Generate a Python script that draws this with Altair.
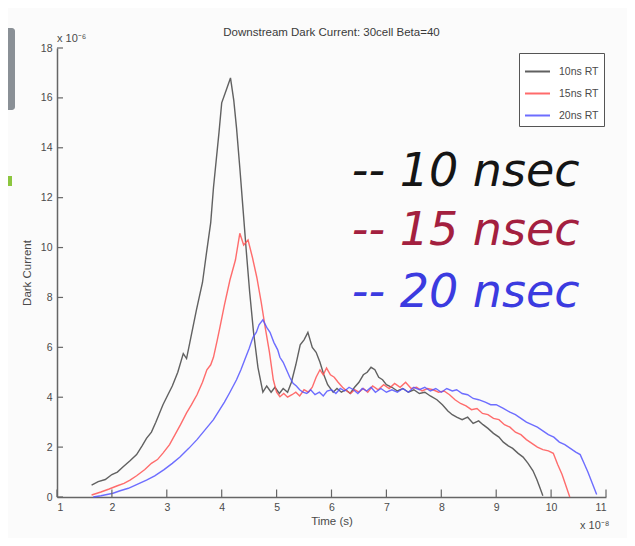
import altair as alt
import pandas as pd

# Time axis in units of 1e-8 s, current in units of 1e-6 (axis exponents)
t10 = [1.63, 1.75, 1.88, 2.0, 2.1, 2.2, 2.33, 2.45, 2.55, 2.63,
       2.72, 2.8, 2.93, 3.02, 3.1, 3.2, 3.3, 3.36, 3.42, 3.54,
       3.65, 3.73, 3.8, 3.85, 3.95, 4.0, 4.08, 4.16, 4.22, 4.27,
       4.33, 4.39, 4.45, 4.51, 4.58, 4.66, 4.75, 4.82, 4.9, 4.97,
       5.05, 5.12, 5.2, 5.27, 5.35, 5.43, 5.5, 5.57, 5.65, 5.72,
       5.79, 5.86, 5.93, 6.03, 6.1, 6.18, 6.26, 6.34, 6.42, 6.5,
       6.58, 6.65, 6.72, 6.79, 6.86, 6.93, 7.0, 7.1, 7.2, 7.3,
       7.4, 7.5, 7.6, 7.7, 7.8, 7.92, 8.02, 8.12, 8.2, 8.28,
       8.38, 8.48, 8.58, 8.68, 8.76, 8.85, 8.95, 9.05, 9.13, 9.22,
       9.3, 9.4, 9.49, 9.58, 9.67, 9.74, 9.8, 9.85]
v10 = [0.48, 0.62, 0.7, 0.9, 1.0, 1.2, 1.45, 1.7, 2.05, 2.35,
       2.6, 3.0, 3.7, 4.1, 4.45, 5.0, 5.75, 5.55, 6.2, 7.5,
       8.6, 9.9, 11.0, 12.4, 14.6, 15.8, 16.3, 16.8, 15.9, 14.8,
       13.2, 11.5, 9.8, 8.2, 6.6, 5.2, 4.2, 4.45, 4.2, 4.4,
       4.15, 4.35, 4.2, 4.6, 5.3, 6.1, 6.3, 6.6, 6.0, 5.8,
       5.4, 4.9, 4.5, 4.2, 4.35, 4.2, 4.3, 4.15, 4.4, 4.6,
       4.9, 5.0, 5.2, 5.1, 4.8, 4.7, 4.5, 4.4, 4.25, 4.35,
       4.2, 4.3, 4.15, 4.2, 4.05, 3.9, 3.7, 3.45, 3.3, 3.2,
       3.1, 3.2, 2.95, 3.05, 2.9, 2.75, 2.55, 2.4, 2.2, 2.05,
       1.95, 1.75, 1.6, 1.35, 1.05, 0.7, 0.35, 0.05]

t15 = [1.63, 1.8, 1.95, 2.1, 2.22, 2.33, 2.45, 2.6, 2.72, 2.83,
       2.93, 3.05, 3.15, 3.25, 3.36, 3.45, 3.55, 3.65, 3.73, 3.8,
       3.85, 3.92, 3.97, 4.05, 4.15, 4.25, 4.33, 4.4, 4.48, 4.56,
       4.64, 4.72, 4.79, 4.87, 4.94, 5.0, 5.06, 5.13, 5.2, 5.28,
       5.35, 5.42, 5.5, 5.58, 5.65, 5.72, 5.79, 5.85, 5.91, 5.98,
       6.05, 6.12, 6.2, 6.28, 6.35, 6.42, 6.5, 6.58, 6.66, 6.75,
       6.85, 6.95, 7.05, 7.15, 7.25, 7.35, 7.45, 7.55, 7.65, 7.75,
       7.85, 7.95, 8.05, 8.15, 8.25, 8.35, 8.45, 8.55, 8.65, 8.75,
       8.85, 8.95, 9.05, 9.15, 9.25, 9.35, 9.45, 9.55, 9.65, 9.75,
       9.85, 9.95, 10.04, 10.12, 10.2, 10.27, 10.34]
v15 = [0.08, 0.2, 0.32, 0.45, 0.55, 0.68, 0.85, 1.1, 1.35, 1.5,
       1.76, 2.1, 2.5, 2.9, 3.37, 3.7, 4.1, 4.6, 5.1, 5.3,
       5.6, 6.3, 6.83, 7.7, 8.7, 9.5, 10.57, 10.1, 10.3, 9.6,
       8.8, 7.8, 6.83, 5.8, 4.7, 4.2, 4.02, 4.15, 4.0, 4.1,
       4.2, 4.05, 4.3, 4.2, 4.4, 4.8, 5.1, 4.9, 5.17, 4.9,
       4.8, 4.6, 4.4, 4.25, 4.15, 4.3, 4.2, 4.35, 4.2, 4.45,
       4.3, 4.5, 4.35, 4.55, 4.4, 4.6, 4.35, 4.4, 4.25, 4.35,
       4.3, 4.2, 4.25, 4.1, 3.9, 3.75, 3.65, 3.5, 3.55, 3.35,
       3.3, 3.15, 3.1, 2.9, 2.8, 2.6, 2.5, 2.3, 2.15, 2.0,
       1.9, 1.85, 1.75, 1.3, 0.9, 0.45, 0.0]

t20 = [1.66, 1.8, 2.02, 2.15, 2.3, 2.45, 2.63, 2.78, 2.95, 3.1,
       3.24, 3.4, 3.55, 3.7, 3.85, 3.95, 4.05, 4.15, 4.27, 4.35,
       4.42, 4.5, 4.57, 4.63, 4.68, 4.75, 4.82, 4.88, 4.95, 5.02,
       5.06, 5.12, 5.18, 5.24, 5.3, 5.36, 5.42, 5.48, 5.55, 5.62,
       5.7, 5.78, 5.85, 5.92, 6.0, 6.08, 6.16, 6.24, 6.32, 6.4,
       6.48, 6.56, 6.64, 6.72, 6.8, 6.9, 7.0, 7.1, 7.2, 7.3,
       7.4, 7.5, 7.6, 7.7, 7.8, 7.9, 8.0, 8.1, 8.2, 8.28,
       8.38, 8.48, 8.58, 8.68, 8.8, 8.9, 9.0, 9.13, 9.25, 9.35,
       9.45, 9.55, 9.65, 9.75, 9.85, 9.95, 10.05, 10.15, 10.25, 10.35,
       10.45, 10.53, 10.6, 10.67, 10.75, 10.83]
v20 = [0.0, 0.05, 0.15, 0.25, 0.35, 0.5, 0.68, 0.85, 1.1, 1.35,
       1.6, 1.95, 2.3, 2.7, 3.1, 3.45, 3.8, 4.2, 4.7, 5.1,
       5.5, 5.95, 6.4, 6.6, 6.9, 7.1, 6.8, 6.6, 6.2, 5.9,
       5.6, 5.4, 5.1, 4.8, 4.56, 4.45, 4.3, 4.2, 4.15, 4.3,
       4.1, 4.2, 4.05, 4.25, 4.3, 4.15, 4.35, 4.25, 4.4, 4.3,
       4.15, 4.35, 4.25, 4.4, 4.2, 4.35, 4.2, 4.3, 4.2, 4.35,
       4.2, 4.4, 4.3, 4.4, 4.25, 4.35, 4.2, 4.35, 4.25, 4.3,
       4.15, 4.1, 3.95, 3.9, 3.8, 3.7, 3.7, 3.55, 3.4, 3.3,
       3.15, 3.0, 2.9, 2.8, 2.65, 2.5, 2.4, 2.2, 2.1, 1.95,
       1.8, 1.7, 1.35, 1.0, 0.55, 0.1]

series_names = ["10ns RT", "15ns RT", "20ns RT"]
line_colors = ["#454545", "#ff5252", "#5454ff"]

x_ticks = [1, 2, 3, 4, 5, 6, 7, 8, 9, 10, 11]
y_ticks = [0, 2, 4, 6, 8, 10, 12, 14, 16, 18]

ann_labels = ["-- 10 nsec", "-- 15 nsec", "-- 20 nsec"]
ann_colors = ["#151515", "#a3203f", "#3b3be0"]
ann_t = [6.37, 6.37, 6.37]
ann_v = [13.03, 10.67, 8.18]

title_text = "Downstream Dark Current: 30cell Beta=40"

rows = []
for name, ts, vs in zip(series_names, [t10, t15, t20], [v10, v15, v20]):
    for i, (a, b) in enumerate(zip(ts, vs)):
        rows.append({"series": name, "t": a, "v": b, "order": i})
df = pd.DataFrame(rows)

ann_df = pd.DataFrame({"label": ann_labels, "color": ann_colors, "t": ann_t, "v": ann_v})
xt_df = pd.DataFrame({"t": x_ticks, "v0": [0] * len(x_ticks), "v1": [0.3] * len(x_ticks)})
yt_df = pd.DataFrame({"v": y_ticks, "t0": [1] * len(y_ticks), "t1": [1.11] * len(y_ticks)})
one = pd.DataFrame({"k": [0]})

xs = alt.Scale(domain=[1, 11], nice=False, zero=False)
ys = alt.Scale(domain=[0, 18], nice=False)

FONT = "Liberation Sans"
TXT = "#4a4a4a"

lines = alt.Chart(df).mark_line(strokeWidth=1.4, opacity=0.85).encode(
    x=alt.X("t:Q", scale=xs, axis=alt.Axis(values=x_ticks, tickSize=0, title="Time (s)",
                                           labelPadding=5, titlePadding=3, grid=False)),
    y=alt.Y("v:Q", scale=ys, axis=alt.Axis(values=y_ticks, tickSize=0, title="Dark Current",
                                           labelPadding=5, titlePadding=8, grid=False)),
    color=alt.Color("series:N", scale=alt.Scale(domain=series_names, range=line_colors),
                    legend=alt.Legend(title=None, orient="none", legendX=462, legendY=5,
                                      strokeColor="#555", fillColor="white", padding=5,
                                      labelFontSize=10.5, labelColor=TXT, symbolType="stroke",
                                      symbolStrokeWidth=2, symbolSize=625, rowPadding=3,
                                      labelFont=FONT, labelOffset=8)),
    order="order:Q",
)

xticks = alt.Chart(xt_df).mark_rule(color="#666", strokeWidth=1.2).encode(
    x=alt.X("t:Q", scale=xs), y=alt.Y("v0:Q", scale=ys), y2="v1:Q")
yticks = alt.Chart(yt_df).mark_rule(color="#666", strokeWidth=1.2).encode(
    y=alt.Y("v:Q", scale=ys), x=alt.X("t0:Q", scale=xs), x2="t1:Q")

ann = alt.Chart(ann_df).mark_text(fontSize=46, fontStyle="italic", font="DejaVu Sans", align="left",
                                  baseline="middle").encode(
    x=alt.X("t:Q", scale=xs), y=alt.Y("v:Q", scale=ys),
    text="label:N", color=alt.Color("color:N", scale=None))

title = alt.Chart(one).mark_text(fontSize=11.5, font=FONT, color="#3a3a3a", align="center",
                                 baseline="middle").encode(
    x=alt.value(274.5), y=alt.value(-15), text=alt.value(title_text))

yexp = alt.Chart(one).mark_text(fontSize=11, font=FONT, color=TXT, align="left",
                                baseline="middle").encode(
    x=alt.value(0), y=alt.value(-9), text=alt.value("x 10\u207b\u2076"))
xexp = alt.Chart(one).mark_text(fontSize=11, font=FONT, color=TXT, align="left",
                                baseline="middle").encode(
    x=alt.value(523), y=alt.value(478), text=alt.value("x 10\u207b\u2078"))

side_grey = alt.Chart(one).mark_rect(color="#8a9096", cornerRadius=3).encode(
    x=alt.value(-60), x2=alt.value(-42), y=alt.value(-20), y2=alt.value(62))
side_green = alt.Chart(one).mark_rect(color="#8cc63f").encode(
    x=alt.value(-60), x2=alt.value(-45), y=alt.value(128), y2=alt.value(138))

chart = alt.layer(side_grey, side_green, lines, xticks, yticks, ann, title, yexp, xexp).properties(
    width=549, height=449,
    autosize=alt.AutoSizeParams(type="none"),
    padding={"left": 49, "top": 40, "right": 21, "bottom": 41},
    background="#fbfbfb",
).configure_view(stroke=None).configure_axis(
    domainColor="#666", domainWidth=1.5, labelFontSize=10.5, labelColor=TXT, labelFont=FONT,
    titleFontSize=11.5, titleFontWeight="normal", titleColor=TXT, titleFont=FONT,
)

chart.save("out.html", embed_options={"renderer": "svg", "actions": False})
